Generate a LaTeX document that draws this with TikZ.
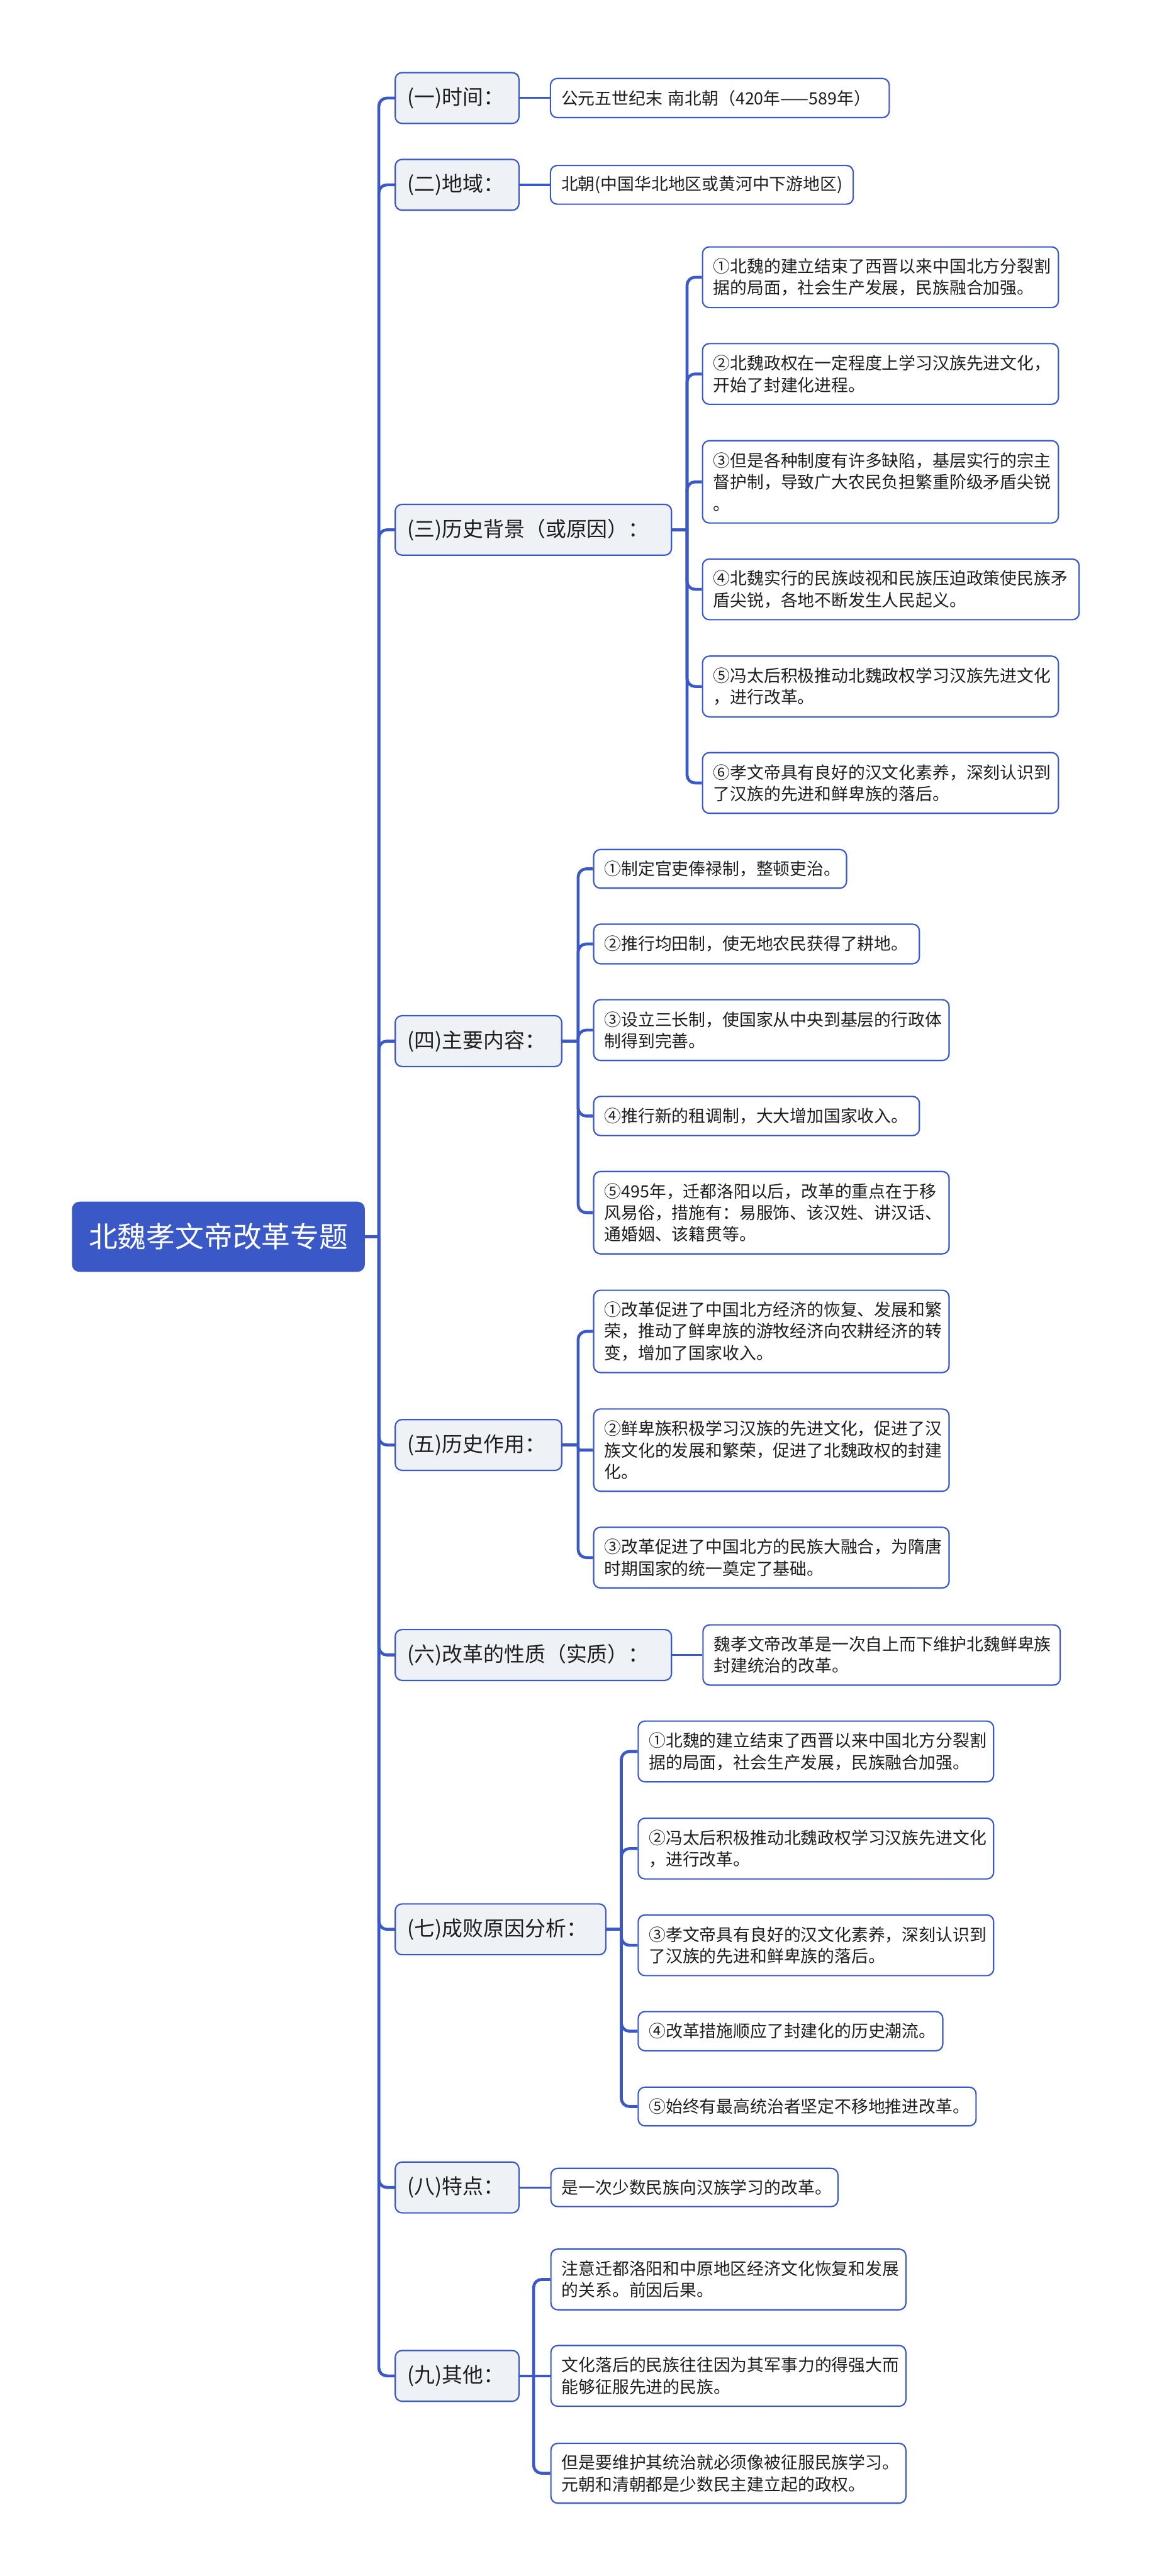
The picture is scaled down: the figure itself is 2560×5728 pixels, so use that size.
\documentclass[tikz,border=0pt]{standalone}
\usepackage{fontspec}
\setmainfont{Noto Sans CJK SC}
\definecolor{mblue}{HTML}{3A59C6}
\definecolor{lvfill}{HTML}{EEF2F7}
\definecolor{txt}{HTML}{1E1E1E}
\tikzset{
 rootbox/.style={draw=mblue, fill=mblue, line width=3pt, rounded corners=15pt, text=white,
   font=\fontsize{64}{76}\selectfont, anchor=west, inner xsep=10pt, inner ysep=0pt, align=center},
 lvbox/.style={draw=mblue, fill=lvfill, line width=3pt, rounded corners=15pt, text=txt,
   font=\fontsize{46}{56}\selectfont, anchor=west, minimum height=113pt, inner xsep=27pt, inner ysep=0pt, align=left},
 leafbox/.style={draw=mblue, fill=white, line width=3pt, rounded corners=15pt, text=txt,
   font=\fontsize{37.5}{48}\selectfont, anchor=west, inner xsep=24pt, inner ysep=0pt, align=left},
 trunk/.style={draw=mblue, line width=6.5pt, rounded corners=18pt},
 link/.style={draw=mblue, line width=4.5pt},
 bar/.style={draw=mblue, line width=6.5pt},
}
% W = box width: leaf text width = W - 48, level text width = W - 54
\begin{document}
\begin{tikzpicture}[x=1pt,y=-1pt]
\useasboundingbox (0,0) rectangle (2560,5728);
% root
\node[rootbox, minimum width=648pt, minimum height=153pt] (root) at (160,2750) {北魏孝文帝改革专题};
% level 1
\node[lvbox, text width=221pt] (a1) at (877,218) {(一)时间：};
\node[lvbox, text width=221pt] (a2) at (877,411) {(二)地域：};
\node[lvbox, text width=560pt] (a3) at (877,1178) {(三)历史背景（或原因）：};
\node[lvbox, text width=316pt] (a4) at (877,2315) {(四)主要内容：};
\node[lvbox, text width=316pt] (a5) at (877,3213) {(五)历史作用：};
\node[lvbox, text width=560pt] (a6) at (877,3680) {(六)改革的性质（实质）：};
\node[lvbox, text width=414pt] (a7) at (877,4290) {(七)成败原因分析：};
\node[lvbox, text width=221pt] (a8) at (877,4864) {(八)特点：};
\node[lvbox, text width=221pt] (a9) at (877,5283) {(九)其他：};
% trunk
\coordinate (j0) at (842,2750);
\draw[bar] (root.east) -- (j0);
\foreach \n in {a1,a2,a3,a4,a5,a6,a7,a8,a9}{
  \draw[trunk] (j0) |- (\n.west);
}
% (一) (二)
\node[leafbox, text width=705pt, minimum height=87pt] (b1) at (1222,218) {公元五世纪末 南北朝（420年——589年）};
\node[leafbox, text width=625pt, minimum height=86pt] (b2) at (1222,411) {北朝(中国华北地区或黄河中下游地区)};
\draw[link] (a1.east) -- (b1.west);
\draw[link] (a2.east) -- (b2.west);
% (三)
\node[leafbox, text width=743pt, minimum height=135pt] (c1) at (1560,616.5) {①北魏的建立结束了西晋以来中国北方分裂割\\据的局面，社会生产发展，民族融合加强。};
\node[leafbox, text width=743pt, minimum height=135pt] (c2) at (1560,831.5) {②北魏政权在一定程度上学习汉族先进文化，\\开始了封建化进程。};
\node[leafbox, text width=743pt, minimum height=183pt] (c3) at (1560,1071.5) {③但是各种制度有许多缺陷，基层实行的宗主\\督护制，导致广大农民负担繁重阶级矛盾尖锐\\。};
\node[leafbox, text width=789pt, minimum height=135pt] (c4) at (1560,1310.5) {④北魏实行的民族歧视和民族压迫政策使民族矛\\盾尖锐，各地不断发生人民起义。};
\node[leafbox, text width=743pt, minimum height=135pt] (c5) at (1560,1526.5) {⑤冯太后积极推动北魏政权学习汉族先进文化\\，进行改革。};
\node[leafbox, text width=743pt, minimum height=135pt] (c6) at (1560,1741) {⑥孝文帝具有良好的汉文化素养，深刻认识到\\了汉族的先进和鲜卑族的落后。};
\coordinate (j3) at (1527,1178);
\draw[bar] (a3.east) -- (j3);
\foreach \n in {c1,c2,c3,c4,c5,c6}{\draw[trunk] (j3) |- (\n.west);}
% (四)
\node[leafbox, text width=514pt, minimum height=86pt] (d1) at (1318,1932) {①制定官吏俸禄制，整顿吏治。};
\node[leafbox, text width=676pt, minimum height=88pt] (d2) at (1318,2099) {②推行均田制，使无地农民获得了耕地。};
\node[leafbox, text width=742pt, minimum height=135pt] (d3) at (1318,2290.5) {③设立三长制，使国家从中央到基层的行政体\\制得到完善。};
\node[leafbox, text width=676pt, minimum height=87pt] (d4) at (1318,2481.5) {④推行新的租调制，大大增加国家收入。};
\node[leafbox, text width=742pt, minimum height=183pt] (d5) at (1318,2696.5) {⑤495年，迁都洛阳以后，改革的重点在于移\\风易俗，措施有：易服饰、该汉姓、讲汉话、\\通婚姻、该籍贯等。};
\coordinate (j4) at (1285,2315);
\draw[bar] (a4.east) -- (j4);
\foreach \n in {d1,d2,d3,d4,d5}{\draw[trunk] (j4) |- (\n.west);}
% (五)
\node[leafbox, text width=742pt, minimum height=183pt] (e1) at (1318,2960.5) {①改革促进了中国北方经济的恢复、发展和繁\\荣，推动了鲜卑族的游牧经济向农耕经济的转\\变，增加了国家收入。};
\node[leafbox, text width=742pt, minimum height=183pt] (e2) at (1318,3224.5) {②鲜卑族积极学习汉族的先进文化，促进了汉\\族文化的发展和繁荣，促进了北魏政权的封建\\化。};
\node[leafbox, text width=742pt, minimum height=135pt] (e3) at (1318,3463.5) {③改革促进了中国北方的民族大融合，为隋唐\\时期国家的统一奠定了基础。};
\coordinate (j5) at (1285,3213);
\draw[bar] (a5.east) -- (j5);
\draw[trunk] (j5) |- (e1.west);
\draw[trunk, rounded corners=5pt] (j5) |- (e2.west);
\draw[trunk] (j5) |- (e3.west);
% (六)
\node[leafbox, text width=746pt, minimum height=134pt] (f1) at (1561,3680) {魏孝文帝改革是一次自上而下维护北魏鲜卑族\\封建统治的改革。};
\draw[link] (a6.east) -- (f1.west);
% (七)
\node[leafbox, text width=742pt, minimum height=135pt] (g1) at (1417,3894.5) {①北魏的建立结束了西晋以来中国北方分裂割\\据的局面，社会生产发展，民族融合加强。};
\node[leafbox, text width=742pt, minimum height=135pt] (g2) at (1417,4110.5) {②冯太后积极推动北魏政权学习汉族先进文化\\，进行改革。};
\node[leafbox, text width=742pt, minimum height=135pt] (g3) at (1417,4325.5) {③孝文帝具有良好的汉文化素养，深刻认识到\\了汉族的先进和鲜卑族的落后。};
\node[leafbox, text width=629pt, minimum height=87pt] (g4) at (1417,4516.5) {④改革措施顺应了封建化的历史潮流。};
\node[leafbox, text width=703pt, minimum height=86pt] (g5) at (1417,4684) {⑤始终有最高统治者坚定不移地推进改革。};
\coordinate (j7) at (1381,4290);
\draw[bar] (a7.east) -- (j7);
\foreach \n in {g1,g2,g3,g4,g5}{\draw[trunk] (j7) |- (\n.west);}
% (八)
\node[leafbox, text width=590pt, minimum height=85pt] (h1) at (1223,4864) {是一次少数民族向汉族学习的改革。};
\draw[link] (a8.east) -- (h1.west);
% (九)
\node[leafbox, text width=741pt, minimum height=135pt] (k1) at (1223,5068.5) {注意迁都洛阳和中原地区经济文化恢复和发展\\的关系。前因后果。};
\node[leafbox, text width=741pt, minimum height=135pt] (k2) at (1223,5283) {文化落后的民族往往因为其军事力的得强大而\\能够征服先进的民族。};
\node[leafbox, text width=741pt, minimum height=133pt] (k3) at (1223,5499.5) {但是要维护其统治就必须像被征服民族学习。\\元朝和清朝都是少数民主建立起的政权。};
\coordinate (j9) at (1186,5283);
\draw[bar] (a9.east) -- (j9);
\draw[trunk] (j9) |- (k1.west);
\draw[bar] (j9) -- (k2.west);
\draw[trunk] (j9) |- (k3.west);
\end{tikzpicture}
\end{document}
